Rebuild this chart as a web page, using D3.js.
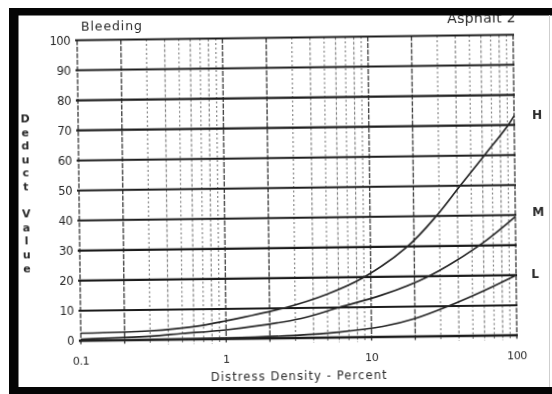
<!DOCTYPE html>
<html>
<head>
<meta charset="utf-8">
<script src="https://cdn.jsdelivr.net/npm/d3@7/dist/d3.min.js"></script>
<style>
  html, body { margin: 0; padding: 0; background: #fff; }
  svg { display: block; }
  text { font-family: "DejaVu Sans", Verdana, sans-serif; fill: #2a2a2a; }
</style>
</head>
<body>
<script>
// Deduct value curves for asphalt bleeding, by severity level
const xTicks = [0.1, 1, 10, 100];
const xTickLabels = ["0.1", "1", "10", "100"];
const yTicks = [0, 10, 20, 30, 40, 50, 60, 70, 80, 90, 100];
const yTickLabels = ["0", "10", "20", "30", "40", "50", "60", "70", "80", "90", "100"];

const severityLevels = ["L", "M", "H"];

const densityL = [0.1, 1, 3, 6, 12, 20, 34, 60, 100];
const deductL  = [0, 0.3, 0.9, 1.8, 3.5, 6, 10, 15, 20];

const densityM = [0.1, 0.3, 0.5, 1, 3.3, 6, 12, 25, 56, 100];
const deductM  = [0.5, 1.2, 2, 3, 6.5, 10, 14, 20, 30, 39.5];

const densityH = [0.1, 0.3, 0.6, 1, 2.5, 5, 9, 18, 28.6, 42, 62, 91, 100];
const deductH  = [2.5, 3, 4.2, 6, 10, 14.5, 20, 30, 40, 50, 60, 70, 73];

const W = 552, H = 394;
const svg = d3.select("body").append("svg").attr("width", W).attr("height", H);

const defs = svg.append("defs");
defs.append("filter").attr("id", "soft")
  .append("feGaussianBlur").attr("stdDeviation", 0.45);

const x = d3.scaleLog().domain([0.1, 100]).range([79, 515]);
const y = d3.scaleLinear().domain([0, 100]).range([338, 37.5]);

// the printed sheet sits a little askew
const g = svg.append("g")
  .attr("filter", "url(#soft)")
  .attr("transform", "rotate(-0.72 297 190)");

// vertical log grid: every 1..9 in each decade, dashed
const vLines = [];
[0.1, 1, 10].forEach(dec => {
  for (let k = 1; k <= 9; k++) vLines.push({ v: dec * k, k });
});
vLines.push({ v: 100, k: 1 });

const strong = d => d.k === 1 || d.k === 2;
g.append("g").selectAll("line").data(vLines).join("line")
  .attr("x1", d => x(d.v)).attr("x2", d => x(d.v))
  .attr("y1", y(100)).attr("y2", y(0) + 5)
  .attr("stroke", d => strong(d) ? "#333" : "#555")
  .attr("stroke-width", d => strong(d) ? 1.4 : 1.2)
  .attr("stroke-dasharray", d => strong(d) ? "5,1.5" : (d.k % 2 ? "2,2.5" : "3,2"))
  .attr("opacity", d => strong(d) ? 0.9 : 0.72);

// horizontal grid
g.append("g").selectAll("line").data(yTicks).join("line")
  .attr("x1", 77).attr("x2", x(100) + 1)
  .attr("y1", d => y(d)).attr("y2", d => y(d))
  .attr("stroke", "#1e1e1e")
  .attr("stroke-width", d => d === 0 ? 2.6 : 2.1);

// y tick labels
g.append("g").selectAll("text").data(yTicks).join("text")
  .attr("x", 72).attr("y", d => y(d))
  .attr("dy", "0.36em")
  .attr("text-anchor", "end")
  .attr("font-size", 11.5)
  .attr("letter-spacing", -0.5)
  .text((d, i) => yTickLabels[i]);

// x tick labels
g.append("g").selectAll("text").data(xTicks).join("text")
  .attr("x", d => x(d)).attr("y", 362)
  .attr("text-anchor", "middle")
  .attr("font-size", 11)
  .attr("letter-spacing", -0.3)
  .text((d, i) => xTickLabels[i]);

// axis titles
g.append("text")
  .attr("x", 297).attr("y", 380)
  .attr("text-anchor", "middle")
  .attr("font-size", 11.5)
  .attr("letter-spacing", 1.1)
  .text("Distress Density - Percent");

const yTitle = "Deduct Value".split("");
g.append("g").selectAll("text").data(yTitle).join("text")
  .attr("x", 26)
  .attr("y", (d, i) => 119 + i * 13.6)
  .attr("text-anchor", "middle")
  .attr("font-size", 11)
  .attr("font-weight", "bold")
  .text(d => d);

// headings
g.append("text").attr("x", 83).attr("y", 28)
  .attr("font-size", 12.5).attr("letter-spacing", 0.9)
  .text("Bleeding");
g.append("text").attr("x", 518).attr("y", 25)
  .attr("text-anchor", "end")
  .attr("font-size", 14)
  .attr("letter-spacing", 0.3)
  .text("Asphalt 2");

// curves
const line = d3.line()
  .x(d => x(d[0])).y(d => y(d[1]))
  .curve(d3.curveCatmullRom.alpha(0.5));

const series = [
  { key: "L", pts: d3.zip(densityL, deductL) },
  { key: "M", pts: d3.zip(densityM, deductM) },
  { key: "H", pts: d3.zip(densityH, deductH) }
];

g.append("g").selectAll("path").data(series).join("path")
  .attr("d", d => line(d.pts))
  .attr("fill", "none")
  .attr("stroke", "#262626")
  .attr("stroke-width", 1.7);

// severity labels at the curve ends
const labelShift = { H: -0.5, M: -5, L: -1 };
g.append("g").selectAll("text").data(series).join("text")
  .attr("x", d => x(100) + (d.key === "L" ? 19 : 23))
  .attr("y", d => y(d.pts[d.pts.length - 1][1]) + labelShift[d.key])
  .attr("dy", "0.36em")
  .attr("text-anchor", "middle")
  .attr("font-size", 12)
  .attr("font-weight", "bold")
  .text(d => d.key);

// heavy black frame of the sheet
const frame = svg.append("g").attr("fill", "#050505");
frame.append("rect").attr("x", 9).attr("y", 8).attr("width", W - 9).attr("height", 7.5);
frame.append("rect").attr("x", 9).attr("y", 8).attr("width", 9.5).attr("height", H - 8);
frame.append("rect").attr("x", 9).attr("y", 387).attr("width", W - 9).attr("height", 7);
svg.append("line")
  .attr("x1", 549.5).attr("x2", 549.5).attr("y1", 15).attr("y2", 387)
  .attr("stroke", "#cfcfcf").attr("stroke-width", 1);
</script>
</body>
</html>
